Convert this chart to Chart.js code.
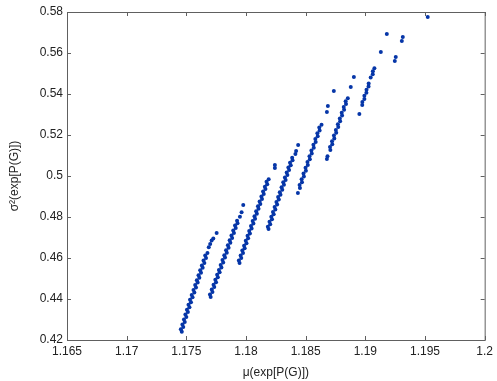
<!DOCTYPE html>
<html>
<head>
<meta charset="utf-8">
<script src="https://cdn.jsdelivr.net/npm/chart.js@4/dist/chart.umd.min.js"></script>
<style>
  html, body { margin: 0; padding: 0; background: #fff; }
</style>
</head>
<body>
<canvas id="chart" width="497" height="381"></canvas>
<script>
// tick values shown on the axes
const X_TICKS = [1.165, 1.17, 1.175, 1.18, 1.185, 1.19, 1.195, 1.2];
const Y_TICKS = [0.42, 0.44, 0.46, 0.48, 0.5, 0.52, 0.54, 0.56, 0.58];

// scatter points, one array per streak: [mu, sigma^2]
const run1 = [
  [1.17462, 0.4240], [1.17454, 0.4252], [1.17474, 0.4264], [1.17467, 0.4276], [1.17487, 0.4288],
  [1.17480, 0.4300], [1.17500, 0.4312], [1.17492, 0.4324], [1.17513, 0.4336], [1.17505, 0.4348],
  [1.17526, 0.4360], [1.17518, 0.4372], [1.17539, 0.4384], [1.17531, 0.4396], [1.17552, 0.4408],
  [1.17545, 0.4420], [1.17567, 0.4432], [1.17560, 0.4444], [1.17581, 0.4456], [1.17574, 0.4468],
  [1.17595, 0.4480], [1.17588, 0.4492], [1.17609, 0.4504], [1.17602, 0.4516], [1.17623, 0.4528],
  [1.17616, 0.4540], [1.17637, 0.4552], [1.17630, 0.4564], [1.17651, 0.4576], [1.17644, 0.4588],
  [1.17665, 0.4600], [1.17658, 0.4612], [1.17677, 0.4624],
  [1.17688, 0.4652], [1.17700, 0.4668], [1.17712, 0.4685], [1.17726, 0.4695], [1.17754, 0.4722]
];
const run2 = [
  [1.17704, 0.4410], [1.17698, 0.4422], [1.17719, 0.4434], [1.17713, 0.4446], [1.17734, 0.4458],
  [1.17728, 0.4470], [1.17749, 0.4482], [1.17743, 0.4494], [1.17764, 0.4506], [1.17758, 0.4518],
  [1.17779, 0.4530], [1.17773, 0.4542], [1.17794, 0.4554], [1.17788, 0.4566], [1.17809, 0.4578],
  [1.17803, 0.4590], [1.17824, 0.4602], [1.17818, 0.4614], [1.17839, 0.4626], [1.17833, 0.4638],
  [1.17854, 0.4650], [1.17848, 0.4662], [1.17869, 0.4674], [1.17863, 0.4686], [1.17884, 0.4698],
  [1.17878, 0.4710], [1.17899, 0.4722], [1.17893, 0.4734], [1.17914, 0.4746], [1.17908, 0.4758],
  [1.17929, 0.4770], [1.17925, 0.4782],
  [1.17949, 0.4801], [1.17963, 0.4823], [1.17977, 0.4859]
];
const run3 = [
  [1.17946, 0.4576], [1.17940, 0.4588], [1.17960, 0.4600], [1.17955, 0.4612], [1.17975, 0.4624],
  [1.17969, 0.4636], [1.17989, 0.4648], [1.17984, 0.4660], [1.18004, 0.4672], [1.17998, 0.4684],
  [1.18018, 0.4696], [1.18013, 0.4708], [1.18033, 0.4720], [1.18027, 0.4732], [1.18047, 0.4744],
  [1.18042, 0.4756], [1.18062, 0.4768], [1.18056, 0.4780], [1.18076, 0.4792], [1.18071, 0.4804],
  [1.18091, 0.4816], [1.18085, 0.4828], [1.18105, 0.4840], [1.18100, 0.4852], [1.18120, 0.4864],
  [1.18114, 0.4876], [1.18134, 0.4888], [1.18129, 0.4900], [1.18149, 0.4912], [1.18143, 0.4924],
  [1.18163, 0.4936], [1.18158, 0.4948], [1.18178, 0.4960], [1.18172, 0.4972], [1.18190, 0.4984],
  [1.18242, 0.5039], [1.18242, 0.5054]
];
const run4 = [
  [1.18189, 0.4741], [1.18183, 0.4753], [1.18203, 0.4765], [1.18197, 0.4777], [1.18218, 0.4789],
  [1.18212, 0.4801], [1.18232, 0.4813], [1.18226, 0.4825], [1.18246, 0.4837], [1.18240, 0.4849],
  [1.18261, 0.4861], [1.18255, 0.4873], [1.18275, 0.4885], [1.18269, 0.4897], [1.18289, 0.4909],
  [1.18283, 0.4921], [1.18304, 0.4933], [1.18298, 0.4945], [1.18318, 0.4957], [1.18312, 0.4969],
  [1.18332, 0.4981], [1.18326, 0.4993], [1.18347, 0.5005], [1.18341, 0.5017], [1.18361, 0.5029],
  [1.18355, 0.5041], [1.18375, 0.5053], [1.18369, 0.5065], [1.18390, 0.5077], [1.18387, 0.5089],
  [1.18414, 0.5107], [1.18420, 0.5122], [1.18437, 0.5151]
];
const run5 = [
  [1.18435, 0.4917],
  [1.18452, 0.4942], [1.18449, 0.4956], [1.18469, 0.4970], [1.18466, 0.4984], [1.18485, 0.4998],
  [1.18482, 0.5012], [1.18502, 0.5026], [1.18499, 0.5040], [1.18518, 0.5054], [1.18515, 0.5068],
  [1.18535, 0.5082], [1.18532, 0.5096], [1.18551, 0.5110], [1.18548, 0.5124], [1.18568, 0.5138],
  [1.18565, 0.5152], [1.18584, 0.5166], [1.18581, 0.5180], [1.18601, 0.5194], [1.18598, 0.5208],
  [1.18617, 0.5222], [1.18614, 0.5236], [1.18633, 0.5250],
  [1.18678, 0.5312], [1.18686, 0.5341]
];
const run6 = [
  [1.18678, 0.5083], [1.18683, 0.5096],
  [1.18707, 0.5127], [1.18704, 0.5141], [1.18723, 0.5155], [1.18721, 0.5169], [1.18740, 0.5183],
  [1.18737, 0.5197], [1.18756, 0.5211], [1.18753, 0.5225], [1.18773, 0.5239], [1.18770, 0.5253],
  [1.18789, 0.5267], [1.18786, 0.5281], [1.18805, 0.5295], [1.18802, 0.5309], [1.18822, 0.5323],
  [1.18819, 0.5337], [1.18838, 0.5351], [1.18835, 0.5365], [1.18853, 0.5379],
  [1.18736, 0.5415], [1.18878, 0.5434], [1.18904, 0.5483]
];
const run7 = [
  [1.18950, 0.5302],
  [1.18974, 0.5346], [1.18975, 0.5361], [1.18992, 0.5376], [1.18992, 0.5391], [1.19009, 0.5406],
  [1.19010, 0.5421], [1.19027, 0.5436], [1.19028, 0.5451], [1.19045, 0.5481], [1.19062, 0.5496],
  [1.19063, 0.5511], [1.19076, 0.5526],
  [1.19130, 0.5605], [1.19180, 0.5693]
];
const run8 = [[1.19247, 0.5561], [1.19255, 0.5580], [1.19306, 0.5659], [1.19314, 0.5678]];
const run9 = [[1.19523, 0.5776]];

const DOT_COLOR = '#0636a8';
const TEXT_COLOR = '#222222';
const FRAME_COLOR = '#606060';

const tickLabel = v => String(Math.round(v * 1000) / 1000);

// box around the plot with inward tick marks on all four sides
const framePlugin = {
    id: 'frame',
    afterDatasetsDraw(chart) {
        const { ctx, chartArea: a, scales: { x, y } } = chart;
        const len = 4;
        ctx.save();
        ctx.strokeStyle = FRAME_COLOR;
        ctx.lineWidth = 1;
        ctx.strokeRect(a.left + 0.5, a.top + 0.5, a.right - a.left, a.bottom - a.top);
        ctx.beginPath();
        x.ticks.forEach(t => {
            const px = Math.round(x.getPixelForValue(t.value)) + 0.5;
            ctx.moveTo(px, a.bottom);
            ctx.lineTo(px, a.bottom - len);
            ctx.moveTo(px, a.top);
            ctx.lineTo(px, a.top + len);
        });
        y.ticks.forEach(t => {
            const py = Math.round(y.getPixelForValue(t.value)) + 0.5;
            ctx.moveTo(a.left, py);
            ctx.lineTo(a.left + len, py);
            ctx.moveTo(a.right, py);
            ctx.lineTo(a.right - len, py);
        });
        ctx.stroke();
        ctx.restore();
    }
};

const points = [...run1, ...run2, ...run3, ...run4, ...run5, ...run6, ...run7, ...run8, ...run9]
    .map(([x, y]) => ({ x, y }));

Chart.defaults.font.family = '"Liberation Sans", Arial, sans-serif';
Chart.defaults.font.size = 12;
Chart.defaults.color = TEXT_COLOR;

new Chart(document.getElementById('chart'), {
    type: 'scatter',
    data: {
        datasets: [{
            data: points,
            backgroundColor: DOT_COLOR,
            borderWidth: 0,
            pointRadius: 2,
            pointHoverRadius: 2
        }]
    },
    options: {
        responsive: false,
        animation: false,
        layout: { padding: { left: 0, right: 12, top: 12, bottom: 0 } },
        plugins: {
            legend: { display: false },
            tooltip: { enabled: false }
        },
        scales: {
            x: {
                type: 'linear',
                min: 1.165,
                max: 1.2,
                grid: { display: false, drawTicks: false },
                border: { display: false },
                afterBuildTicks: s => { s.ticks = X_TICKS.map(v => ({ value: v })); },
                afterFit: s => { s.height = 41; },
                ticks: { padding: 4, maxRotation: 0, autoSkip: false, callback: tickLabel },
                title: { display: true, text: 'μ(exp[P(G)])', padding: { top: 1, bottom: 1 } }
            },
            y: {
                type: 'linear',
                min: 0.42,
                max: 0.58,
                grid: { display: false, drawTicks: false },
                border: { display: false },
                afterBuildTicks: s => { s.ticks = Y_TICKS.map(v => ({ value: v })); },
                afterFit: s => { s.width = 67; },
                ticks: { padding: 4, autoSkip: false, callback: tickLabel },
                title: { display: true, text: 'σ²(exp[P(G)])', padding: { top: 7, bottom: 7 } }
            }
        }
    },
    plugins: [framePlugin]
});
</script>
</body>
</html>
